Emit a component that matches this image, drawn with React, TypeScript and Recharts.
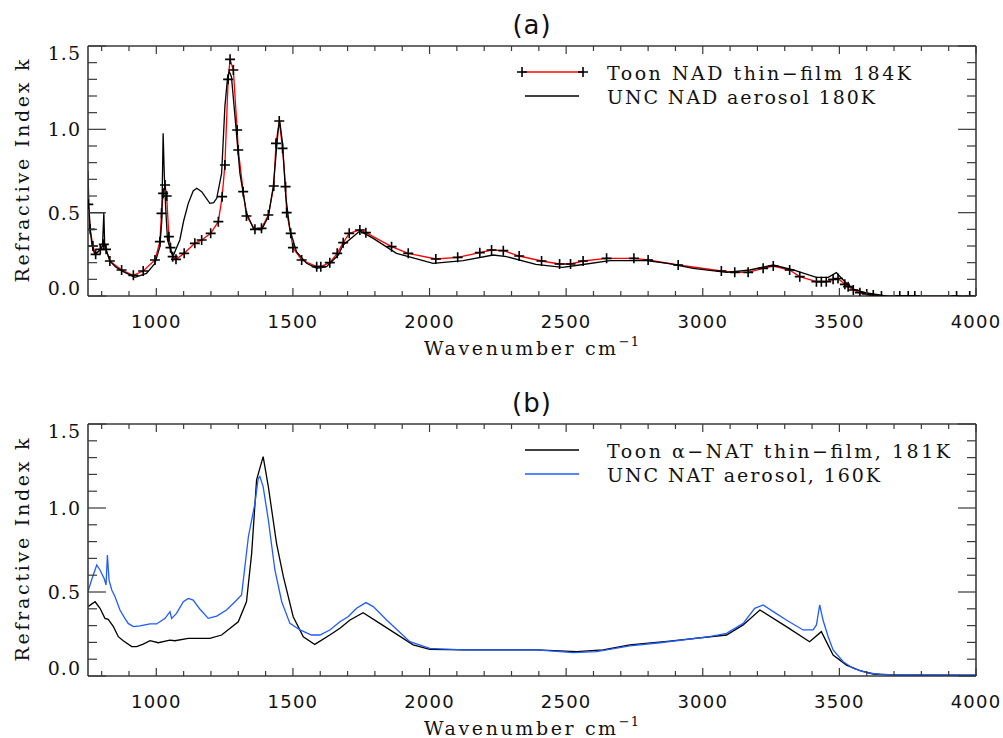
import React from 'react';
import { LineChart, Line, XAxis, YAxis, Legend, Label } from 'recharts';

const SERIF = "'DejaVu Serif', 'Liberation Serif', serif";
const SANS = "'DejaVu Sans', sans-serif";
const AXIS = '#3a3a3a';

// axis ticks
const xMajor = [1000, 1500, 2000, 2500, 3000, 3500, 4000];
const xTicks = [
  800, 900, 1000, 1100, 1200, 1300, 1400, 1500, 1600, 1700, 1800, 1900, 2000,
  2100, 2200, 2300, 2400, 2500, 2600, 2700, 2800, 2900, 3000, 3100, 3200, 3300,
  3400, 3500, 3600, 3700, 3800, 3900, 4000,
];
const yMajor = [0, 0.5, 1.0, 1.5];
const yTicks = [0, 0.1, 0.2, 0.3, 0.4, 0.5, 0.6, 0.7, 0.8, 0.9, 1.0, 1.1, 1.2, 1.3, 1.4, 1.5];

// (a) Toon NAD thin-film 184K
const nadToonX = [
  751, 758, 768, 778, 795, 808, 816, 830, 873, 916, 952, 995, 1013, 1019, 1025, 1032, 1038, 1046,
  1052, 1060, 1072, 1102, 1141, 1166, 1199, 1227, 1241, 1251, 1263, 1270, 1282, 1296, 1300, 1318,
  1330, 1361, 1385, 1410, 1430, 1438, 1450, 1462, 1473, 1477, 1492, 1500, 1532, 1587, 1602, 1635,
  1662, 1684, 1706, 1745, 1767, 1861, 1922, 2023, 2103, 2184, 2227, 2270, 2328, 2410, 2476, 2516,
  2562, 2648, 2748, 2800, 2910, 3068, 3117, 3166, 3221, 3258, 3318, 3355, 3416, 3434, 3452, 3477,
  3495, 3520, 3532, 3551, 3575, 3600, 3624, 3654, 3721, 3752, 3776, 3929, 3977,
];
const nadToonK = [
  0.55, 0.4, 0.3, 0.25, 0.28, 0.31, 0.28, 0.21, 0.156, 0.124, 0.15, 0.216, 0.326, 0.496, 0.616, 0.666, 0.6, 0.356,
  0.29, 0.236, 0.22, 0.256, 0.316, 0.336, 0.376, 0.446, 0.596, 0.786, 1.3, 1.42, 1.356, 0.996, 0.876, 0.626,
  0.48, 0.4, 0.406, 0.486, 0.66, 0.916, 1.05, 0.886, 0.656, 0.5, 0.376, 0.29, 0.216, 0.176, 0.176, 0.2,
  0.256, 0.32, 0.376, 0.396, 0.38, 0.296, 0.256, 0.222, 0.232, 0.26, 0.276, 0.272, 0.24, 0.21, 0.192, 0.192,
  0.21, 0.226, 0.226, 0.216, 0.186, 0.15, 0.142, 0.142, 0.166, 0.18, 0.156, 0.116, 0.086, 0.086, 0.086, 0.1,
  0.105, 0.07, 0.056, 0.036, 0.02, 0.012, 0.006, 0.0, 0.0, 0.0, 0.0, 0.0, 0.0,
];

// (a) UNC NAD aerosol 180K
const nadUncX = [
  750, 753, 758, 765, 775, 790, 803, 808, 811, 816, 830, 850, 879, 922, 964, 995, 1013, 1020, 1025,
  1029, 1034, 1041, 1056, 1063, 1086, 1100, 1117, 1135, 1148, 1166, 1196, 1210, 1221, 1239, 1251,
  1261, 1267, 1275, 1287, 1306, 1330, 1355, 1385, 1410, 1428, 1446, 1452, 1462, 1474, 1489, 1513,
  1550, 1587, 1623, 1666, 1684, 1745, 1794, 1879, 2013, 2123, 2233, 2282, 2389, 2487, 2549, 2660,
  2794, 2878, 2965, 3087, 3172, 3258, 3331, 3416, 3459, 3489, 3520, 3551, 3600, 3660, 3750, 4000,
];
const nadUncK = [
  0.75, 0.55, 0.4, 0.3, 0.25, 0.27, 0.3, 0.5, 0.31, 0.28, 0.21, 0.175, 0.146, 0.112, 0.136, 0.196, 0.296, 0.45, 0.976,
  0.74, 0.536, 0.336, 0.256, 0.246, 0.336, 0.45, 0.556, 0.63, 0.646, 0.626, 0.556, 0.56, 0.586, 0.736, 1.136,
  1.316, 1.346, 1.316, 1.096, 0.736, 0.5, 0.406, 0.396, 0.476, 0.656, 0.996, 1.046, 0.916, 0.596, 0.396, 0.266,
  0.196, 0.166, 0.176, 0.246, 0.306, 0.39, 0.346, 0.256, 0.196, 0.212, 0.246, 0.236, 0.19, 0.172, 0.186, 0.212,
  0.212, 0.194, 0.166, 0.142, 0.156, 0.186, 0.156, 0.112, 0.112, 0.14, 0.086, 0.042, 0.018, 0.004, 0.0, 0.0,
];
const nadUncStepX = [750, 808];
const nadUncStepK = [0.5, 0.5];

// (b) Toon alpha-NAT thin-film, 181K
const natToonX = [
  750, 776, 794, 812, 824, 843, 861, 879, 910, 928, 952, 977, 1007, 1050, 1068, 1117, 1196, 1239,
  1300, 1330, 1349, 1367, 1391, 1410, 1440, 1465, 1501, 1538, 1580, 1635, 1672, 1709, 1757, 1818,
  1940, 2001, 2123, 2392, 2538, 2635, 2733, 2879, 3087, 3148, 3209, 3306, 3391, 3434, 3477, 3526,
  3575, 3624, 3697, 4000,
];
const natToonK = [
  0.413, 0.442, 0.403, 0.343, 0.337, 0.294, 0.234, 0.21, 0.175, 0.175, 0.19, 0.21, 0.198, 0.214, 0.21, 0.224, 0.224, 0.244,
  0.323, 0.442, 0.73, 1.167, 1.306, 1.127, 0.79, 0.591, 0.353, 0.234, 0.188, 0.244, 0.284, 0.333, 0.377, 0.313,
  0.185, 0.159, 0.155, 0.155, 0.145, 0.155, 0.185, 0.208, 0.244, 0.304, 0.393, 0.294, 0.204, 0.264, 0.125, 0.065,
  0.032, 0.012, 0.006, 0.004,
];

// (b) UNC NAT aerosol, 160K
const natUncX = [
  750, 763, 782, 794, 809, 816, 821, 827, 837, 849, 867, 885, 897, 916, 940, 977, 1001, 1032, 1050,
  1056, 1074, 1099, 1117, 1135, 1160, 1190, 1221, 1257, 1288, 1312, 1337, 1361, 1373, 1379, 1391,
  1410, 1434, 1459, 1489, 1526, 1568, 1599, 1635, 1672, 1702, 1733, 1767, 1794, 1843, 1928, 2001,
  2123, 2245, 2392, 2526, 2611, 2733, 2843, 3026, 3087, 3148, 3190, 3221, 3258, 3306, 3367, 3404,
  3416, 3428, 3440, 3459, 3477, 3514, 3550, 3599, 3648, 3818, 4000,
];
const natUncK = [
  0.502, 0.571, 0.661, 0.631, 0.581, 0.542, 0.72, 0.571, 0.512, 0.472, 0.393, 0.343, 0.313, 0.294, 0.298, 0.31, 0.31, 0.343, 0.383,
  0.343, 0.373, 0.442, 0.462, 0.452, 0.397, 0.343, 0.357, 0.393, 0.442, 0.482, 0.829, 1.028, 1.177, 1.187, 1.127,
  0.929, 0.631, 0.442, 0.313, 0.274, 0.244, 0.244, 0.274, 0.323, 0.353, 0.403, 0.437, 0.413, 0.333, 0.204, 0.165,
  0.155, 0.155, 0.155, 0.139, 0.145, 0.179, 0.198, 0.234, 0.254, 0.313, 0.403, 0.423, 0.383, 0.333, 0.274, 0.274,
  0.304, 0.423, 0.333, 0.234, 0.155, 0.085, 0.046, 0.02, 0.01, 0.006, 0.006,
];

const zip = (xs: number[], ks: number[]) => xs.map((x, i) => ({ x, k: ks[i] }));

const isMajorY = (v: number) => yMajor.some((m) => Math.abs(m - v) < 1e-6);

const BottomTick = ({ x, y, payload }: any) => {
  const major = xMajor.includes(payload.value);
  return (
    <g>
      <line x1={x} y1={y} x2={x} y2={y - (major ? 8 : 5)} stroke={AXIS} strokeWidth={1.2} />
      {major && (
        <text x={x} y={y + 32} textAnchor="middle" style={{ fontFamily: SANS }} fontSize={18} letterSpacing={1.2} fill="#111">
          {payload.value}
        </text>
      )}
    </g>
  );
};

const TopTick = ({ x, y, payload }: any) => {
  const major = xMajor.includes(payload.value);
  return <line x1={x} y1={y} x2={x} y2={y + (major ? 8 : 5)} stroke={AXIS} strokeWidth={1.2} />;
};

const LeftTick = ({ x, y, payload }: any) => {
  const v = payload.value;
  const major = isMajorY(v);
  // end labels are pushed inside the frame, like the original
  let base = y + 7;
  if (Math.abs(v - 1.5) < 1e-6) base = y + 14;
  if (Math.abs(v) < 1e-6) base = y - 1;
  return (
    <g>
      <line x1={x} y1={y} x2={x + (major ? 18 : 9)} y2={y} stroke={AXIS} strokeWidth={1.2} />
      {major && (
        <text x={x - 7} y={base} textAnchor="end" style={{ fontFamily: SERIF }} fontSize={19} letterSpacing={1} fill="#111">
          {v.toFixed(1)}
        </text>
      )}
    </g>
  );
};

const RightTick = ({ x, y, payload }: any) => {
  const major = isMajorY(payload.value);
  return <line x1={x} y1={y} x2={x - (major ? 18 : 9)} y2={y} stroke={AXIS} strokeWidth={1.2} />;
};

const PlusDot = (props: any) => {
  const { cx, cy, index } = props;
  if (cx == null || cy == null) return null;
  return (
    <path
      key={`p-${index}`}
      d={`M${cx - 5},${cy}H${cx + 5}M${cx},${cy - 5}V${cy + 5}`}
      stroke="#000"
      strokeWidth={1.6}
      fill="none"
    />
  );
};

interface LegendRow {
  label: string;
  color: string;
  marker: boolean;
  textWidth: number;
}

const LegendBox = ({ rows }: { rows: LegendRow[] }) => (
  <svg width={480} height={70} style={{ overflow: 'visible', display: 'block' }}>
    {rows.map((r, i) => {
      const ly = 17 + i * 24;
      const x1 = r.marker ? 22 : 25;
      const x2 = r.marker ? 83 : 79;
      return (
        <g key={r.label}>
          <line x1={x1} y1={ly} x2={x2} y2={ly} stroke={r.color} strokeWidth={1.4} />
          {r.marker && (
            <>
              <PlusDot cx={x1} cy={ly} index={0} />
              <PlusDot cx={x2} cy={ly} index={1} />
            </>
          )}
          <text
            x={107}
            y={ly + 8}
            style={{ fontFamily: SERIF }}
            fontSize={19}
            fill="#111"
            textLength={r.textWidth}
            lengthAdjust="spacing"
          >
            {r.label}
          </text>
        </g>
      );
    })}
  </svg>
);

const XTitle = ({ viewBox }: any) => {
  const { x, y, width } = viewBox;
  return (
    <text x={x + width / 2} y={y + 59} textAnchor="middle" style={{ fontFamily: SERIF }} fontSize={19} letterSpacing={2.6} fill="#111">
      Wavenumber cm
      <tspan dy={-9} fontSize={13} letterSpacing={1}>−1</tspan>
    </text>
  );
};

const YTitle = ({ viewBox }: any) => {
  const { x, y, height } = viewBox;
  const cx = x + 1;
  const cy = y + height / 2;
  return (
    <text
      x={cx}
      y={cy}
      transform={`rotate(-90, ${cx}, ${cy})`}
      textAnchor="middle"
      style={{ fontFamily: SERIF }}
      fontSize={19}
      fill="#111"
      textLength={223}
      lengthAdjust="spacing"
    >
      Refractive Index k
    </text>
  );
};

const makeTitle = (t: string) => ({ viewBox }: any) => {
  const { x, y, width } = viewBox;
  return (
    <text x={x + width / 2} y={y - 11} textAnchor="middle" style={{ fontFamily: SANS }} fontSize={26} letterSpacing={1} fill="#111">
      {t}
    </text>
  );
};

interface SeriesDef {
  name: string;
  data: { x: number; k: number }[];
  color: string;
  marker?: boolean;
}

interface PanelProps {
  height: number;
  bottom: number;
  title: string;
  series: SeriesDef[];
  legend: LegendRow[];
}

const Panel = ({ height, bottom, title, series, legend }: PanelProps) => (
  <LineChart width={1003} height={height} margin={{ top: 45, right: 26, bottom, left: 28 }}>
    <XAxis
      xAxisId="bottom"
      type="number"
      dataKey="x"
      domain={[750, 4000]}
      allowDataOverflow
      ticks={xTicks}
      interval={0}
      tickSize={0}
      tickMargin={0}
      tick={BottomTick}
      tickLine={false}
      axisLine={{ stroke: AXIS, strokeWidth: 1.6 }}
      height={30}
    >
      <Label content={XTitle} />
    </XAxis>
    <XAxis
      xAxisId="top"
      orientation="top"
      type="number"
      dataKey="x"
      domain={[750, 4000]}
      allowDataOverflow
      ticks={xTicks}
      interval={0}
      tickSize={0}
      tickMargin={0}
      tick={TopTick}
      tickLine={false}
      axisLine={{ stroke: AXIS, strokeWidth: 1.6 }}
      height={1}
    >
      <Label content={makeTitle(title)} />
    </XAxis>
    <YAxis
      yAxisId="left"
      type="number"
      domain={[0, 1.5]}
      allowDataOverflow
      ticks={yTicks}
      interval={0}
      tickSize={0}
      tickMargin={0}
      tick={LeftTick}
      tickLine={false}
      axisLine={{ stroke: AXIS, strokeWidth: 1.6 }}
      width={60}
    >
      <Label content={YTitle} />
    </YAxis>
    <YAxis
      yAxisId="right"
      orientation="right"
      type="number"
      domain={[0, 1.5]}
      allowDataOverflow
      ticks={yTicks}
      interval={0}
      tickSize={0}
      tickMargin={0}
      tick={RightTick}
      tickLine={false}
      axisLine={{ stroke: AXIS, strokeWidth: 1.6 }}
      width={1}
    />
    {/* invisible copy bound to the top/right axes so they get drawn */}
    <Line
      xAxisId="top"
      yAxisId="right"
      data={series[0].data}
      dataKey="k"
      stroke="none"
      dot={false}
      activeDot={false}
      isAnimationActive={false}
      legendType="none"
    />
    {series.map((s) => (
      <Line
        key={s.name}
        name={s.name}
        xAxisId="bottom"
        yAxisId="left"
        data={s.data}
        dataKey="k"
        type="linear"
        stroke={s.color}
        strokeWidth={1.3}
        dot={s.marker ? PlusDot : false}
        activeDot={false}
        isAnimationActive={false}
        legendType="none"
      />
    ))}
    <Legend
      layout="horizontal"
      verticalAlign="middle"
      align="center"
      wrapperStyle={{ left: 500, top: 55, width: 480, height: 70 }}
      content={() => <LegendBox rows={legend} />}
    />
  </LineChart>
);

export default function App() {
  const panelA: SeriesDef[] = [
    { name: 'Toon NAD thin-film 184K', data: zip(nadToonX, nadToonK), color: '#ff0000', marker: true },
    { name: 'UNC NAD aerosol 180K', data: zip(nadUncX, nadUncK), color: '#000000' },
    { name: 'UNC NAD aerosol 180K (edge)', data: zip(nadUncStepX, nadUncStepK), color: '#000000' },
  ];
  const panelB: SeriesDef[] = [
    { name: 'Toon α-NAT thin-film, 181K', data: zip(natToonX, natToonK), color: '#000000' },
    { name: 'UNC NAT aerosol, 160K', data: zip(natUncX, natUncK), color: '#1f5bff' },
  ];
  return (
    <div style={{ position: 'absolute', left: 0, top: 0, width: 1003, height: 738, background: '#fff' }}>
      <div style={{ position: 'absolute', left: 0, top: 0 }}>
        <Panel
          height={378}
          bottom={52}
          title="(a)"
          series={panelA}
          legend={[
            { label: 'Toon NAD thin−film 184K', color: '#ff0000', marker: true, textWidth: 304 },
            { label: 'UNC NAD aerosol 180K', color: '#000000', marker: false, textWidth: 268 },
          ]}
        />
      </div>
      <div style={{ position: 'absolute', left: 0, top: 378 }}>
        <Panel
          height={360}
          bottom={32}
          title="(b)"
          series={panelB}
          legend={[
            { label: 'Toon α−NAT thin−film, 181K', color: '#000000', marker: false, textWidth: 343 },
            { label: 'UNC NAT aerosol, 160K', color: '#1f5bff', marker: false, textWidth: 273 },
          ]}
        />
      </div>
    </div>
  );
}
